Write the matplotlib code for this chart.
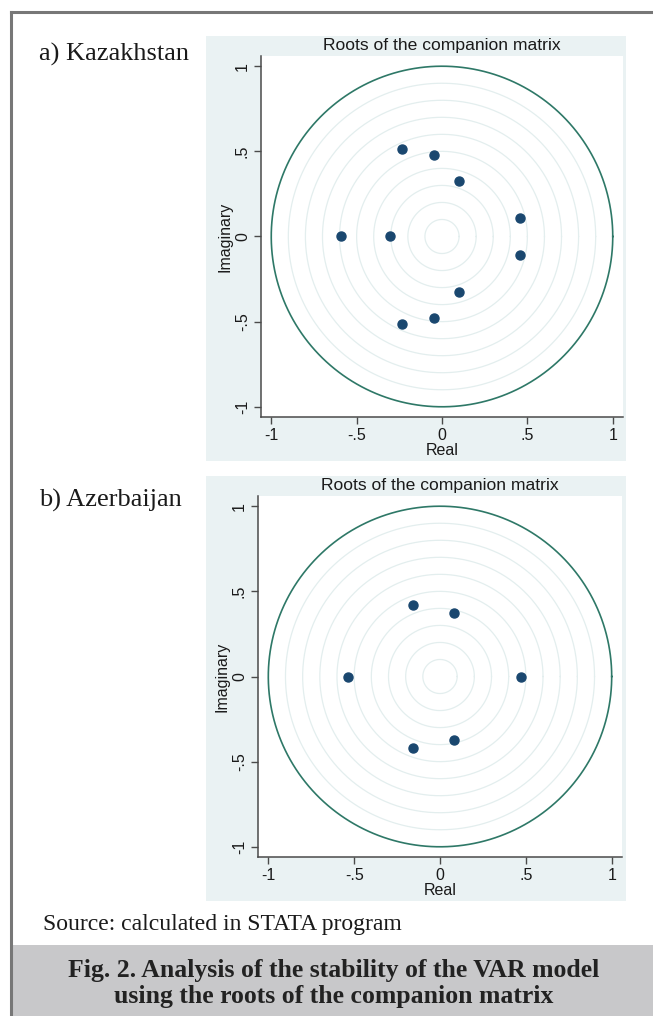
import numpy as np
import matplotlib
matplotlib.use("Agg")
import matplotlib.pyplot as plt
from matplotlib.patches import Rectangle
from matplotlib.lines import Line2D

# roots (real, imaginary)
kaz_real = [-0.235, -0.235, -0.047, -0.047, 0.097, 0.097, 0.455, 0.455, -0.592, -0.303]
kaz_imag = [0.514, -0.514, 0.477, -0.477, 0.323, -0.323, 0.108, -0.108, 0.0, 0.0]

aze_real = [-0.157, -0.157, 0.082, 0.082, -0.534, 0.474]
aze_imag = [0.422, -0.422, 0.373, -0.373, 0.0, 0.0]

tick_vals = [-1, -0.5, 0, 0.5, 1]
tick_labels = ["-1", "-.5", "0", ".5", "1"]
grid_radii = [0.1, 0.2, 0.3, 0.4, 0.5, 0.6, 0.7, 0.8, 0.9]

W, H = 653, 1016
BG = "#EAF2F3"
MARK = "#1A476F"
UNIT = "#2E7867"
GRIDC = "#E3EEEE"
AXC = "#4A4A4A"

plt.rcParams['font.family'] = ['Liberation Sans', 'DejaVu Sans']

fig = plt.figure(figsize=(W / 100, H / 100), dpi=100)


def px_box(x0, y0, x1, y1):
    # pixel box (top-left origin) -> figure fraction [l, b, w, h]
    return [x0 / W, 1 - y1 / H, (x1 - x0) / W, (y1 - y0) / H]


def roots_panel(box, bg_box, re, im):
    l, b, w, h = px_box(*bg_box)
    fig.patches.append(Rectangle((l, b), w, h, transform=fig.transFigure,
                                 facecolor=BG, edgecolor="none", zorder=-5))
    ax = fig.add_axes(px_box(*box))
    ax.set_facecolor("white")
    t = np.linspace(0, 2 * np.pi, 400)
    for r in grid_radii:
        ax.plot(r * np.cos(t), r * np.sin(t), color=GRIDC, lw=0.9, zorder=1)
    ax.plot(np.cos(t), np.sin(t), color=UNIT, lw=1.2, zorder=2)
    ax.plot(re, im, "o", color=MARK, ms=6.5, zorder=3)
    ax.set_xlim(-1.06, 1.06)
    ax.set_ylim(-1.06, 1.06)
    for s in ["top", "right"]:
        ax.spines[s].set_visible(False)
    for s in ["left", "bottom"]:
        ax.spines[s].set_color(AXC)
        ax.spines[s].set_linewidth(1.1)
    ax.set_xticks(tick_vals)
    ax.set_xticklabels(tick_labels)
    ax.set_yticks(tick_vals)
    ax.set_yticklabels(tick_labels, rotation=90, va="center")
    ax.tick_params(colors=AXC, labelcolor="#1a1a1a", labelsize=11.5,
                   length=5, width=1.0, pad=3)
    ax.set_xlabel("Real", fontsize=11.5, labelpad=0, color="#1a1a1a")
    ax.set_ylabel("Imaginary", fontsize=11.5, labelpad=2, color="#1a1a1a")
    ax.set_title("Roots of the companion matrix", fontsize=12.6, pad=4,
                 color="#1a1a1a")
    return ax


roots_panel((261, 56, 623, 417), (206, 36, 626, 461), kaz_real, kaz_imag)
roots_panel((258, 496, 622, 857), (206, 476, 626, 901), aze_real, aze_imag)

serif = ['Liberation Serif', 'DejaVu Serif']
fig.text(39 / W, 1 - 61 / H, "a) Kazakhstan", family=serif, fontsize=19,
         color="#1a1a1a", va="baseline")
fig.text(39 / W, 1 - 507 / H, "b) Azerbaijan", family=serif, fontsize=19,
         color="#1a1a1a", va="baseline")
fig.text(43 / W, 1 - 930 / H, "Source: calculated in STATA program",
         family=serif, fontsize=17, color="#1a1a1a", va="baseline")

# caption band
l, b, w, h = px_box(10, 945, W, H)
fig.patches.append(Rectangle((l, b), w, h, transform=fig.transFigure,
                             facecolor="#C8C8CA", edgecolor="none", zorder=-5))
fig.text(334 / W, 1 - 977 / H,
         "Fig. 2. Analysis of the stability of the VAR model",
         family=serif, fontsize=18.5, weight="bold", color="#222222",
         ha="center", va="baseline")
fig.text(334 / W, 1 - 1003 / H, "using the roots of the companion matrix",
         family=serif, fontsize=18.5, weight="bold", color="#222222",
         ha="center", va="baseline")

# frame lines (top and left)
fig.add_artist(Line2D([10.5 / W, 1], [1 - 11.5 / H, 1 - 11.5 / H],
                      transform=fig.transFigure, color="#777777", lw=2.2))
fig.add_artist(Line2D([10.5 / W, 10.5 / W], [1 - 11.5 / H, 0],
                      transform=fig.transFigure, color="#777777", lw=2.2))

fig.savefig("out.png", dpi=100, facecolor="white")
